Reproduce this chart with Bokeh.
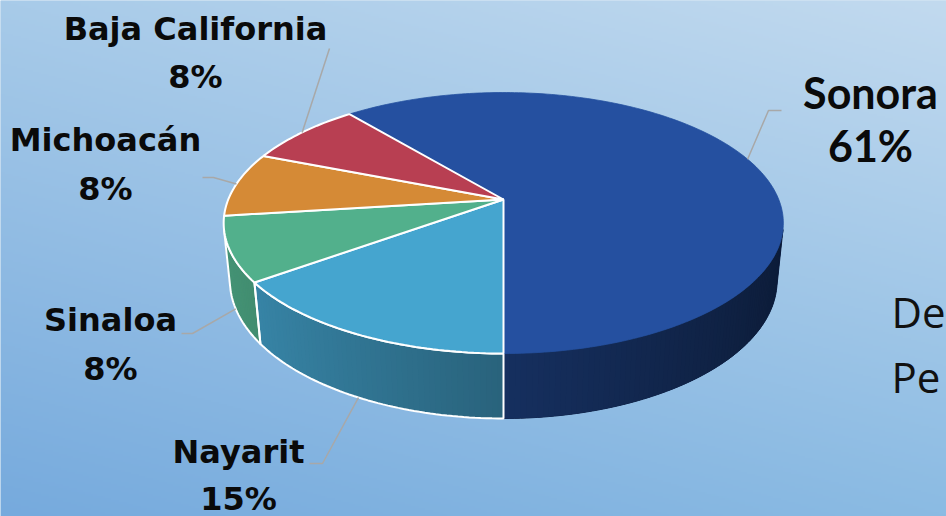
import numpy as np
from bokeh.plotting import figure
from bokeh.models import Range1d
from bokeh.core.properties import value
from bokeh.embed import file_html
from bokeh.resources import INLINE

# ---------------- data ----------------
states = ["Sonora", "Nayarit", "Sinaloa", "Michoacán", "Baja California"]
shares = [61, 15, 8, 8, 8]
pct_labels = [f"{v}%" for v in shares]

# ---------------- style / layout ----------------
top_colors = ["#2550a0", "#45a5cf", "#52b08c", "#d58a36", "#b83f52"]
edge_colors = [None, "white", "white", "white", "white"]
W, H = 946, 516
CX, CY = 503.0, 199.0            # screen position of pie centre
F = 1357.0                        # focal length (px)
ALPHA = np.radians(27.3)          # camera tilt
L = 4.93                          # camera distance (pie radius = 1)
T = 0.2376                        # pie thickness
START = 129.6                     # angle where the first slice starts (clockwise)

# label layout (screen coords): x centre, name baseline, pct baseline
label_x = [870, 238, 110, 105, 195]
label_y_name = [92, 451, 319, 139, 28]
label_y_pct = [145, 498, 368, 188, 76]
label_size = ["43px", "32px", "32px", "32px", "32px"]
label_font = ["Lato", "DejaVu Sans", "DejaVu Sans", "DejaVu Sans", "DejaVu Sans"]
leader_elbow = [(768, 110), (322, 463), (192, 333), (213, 177), (329, 48)]
leader_end = [(781, 110), (309, 463), (181, 333), (202, 177), (329, 48)]
side_text = ["De", "Pe"]
side_x = [891, 891]
side_y = [311, 376]


def proj(phi_deg, y3, r=1.0):
    ph = np.radians(phi_deg)
    X = r * np.cos(ph)
    Z = r * np.sin(ph)
    zc = L - y3 * np.sin(ALPHA) + Z * np.cos(ALPHA)
    yc = y3 * np.cos(ALPHA) + Z * np.sin(ALPHA)
    sx = CX + F * X / zc
    sy = CY - F * yc / zc
    return sx, H - sy


def shade(hexcol, phi_deg):
    s = 0.6 - 0.25 * np.cos(np.radians(phi_deg))
    r, g, b = (int(hexcol[i:i + 2], 16) for i in (1, 3, 5))
    return "#%02x%02x%02x" % (int(r * s), int(g * s), int(b * s))


p = figure(width=W, height=H, x_range=Range1d(0, W), y_range=Range1d(0, H),
           output_backend="svg", toolbar_location=None, min_border=0,
           x_axis_type=None, y_axis_type=None)
p.grid.visible = False
p.outline_line_color = None
p.background_fill_color = "#a6c9e8"
p.border_fill_color = "#a6c9e8"

# ---------- background gradient ----------
gh, gw = 258, 473
ty = np.linspace(0, 1, gh)[:, None]
tx = np.linspace(0, 1, gw)[None, :]
BL = np.array([118, 170, 221]); BR = np.array([139, 187, 227])
TL = np.array([168, 203, 233]); TR = np.array([194, 218, 239])
rgb = (BL * ((1 - tx) * (1 - ty))[..., None] + BR * (tx * (1 - ty))[..., None]
       + TL * ((1 - tx) * ty)[..., None] + TR * (tx * ty)[..., None])
img = np.empty((gh, gw), dtype=np.uint32)
view = img.view(dtype=np.uint8).reshape((gh, gw, 4))
view[..., :3] = rgb.astype(np.uint8)
view[..., 3] = 255
p.image_rgba(image=[img], x=0, y=0, dw=W, dh=H)

# ---------- slice angles ----------
total = float(sum(shares))
spans = []
a0 = START
for v in shares:
    a1 = a0 - 360.0 * v / total
    spans.append((a1, a0))
    a0 = a1

# visible part of the cylinder wall
Dc = L * np.cos(ALPHA)
tv = np.degrees(np.arcsin(1.0 / Dc))

base_xs, base_ys, base_cols = [], [], []
strip_xs, strip_ys, strip_cols = [], [], []
out_xs, out_ys = [], []
for i, (a1, a0) in enumerate(spans):
    for shift in (-720, -360, 0, 360):
        lo = max(a1, 180 + tv + shift)
        hi = min(a0, 360 - tv + shift)
        if hi <= lo:
            continue
        n = max(2, int(np.ceil((hi - lo) / 1.0)))
        ph = np.linspace(lo, hi, n + 1)
        tx_, ty_ = proj(ph, 0.0)
        bx_, by_ = proj(ph[::-1], -T)
        base_xs.append(list(tx_) + list(bx_))
        base_ys.append(list(ty_) + list(by_))
        base_cols.append(shade(top_colors[i], (lo + hi) / 2))
        for k in range(n):
            pa, pb = ph[k], min(hi, ph[k + 1] + 0.7)
            xa, ya = proj(pa, 0.0); xb, yb = proj(pb, 0.0)
            xc, yc = proj(pb, -T); xd, yd = proj(pa, -T)
            strip_xs.append([xa, xb, xc, xd]); strip_ys.append([ya, yb, yc, yd])
            strip_cols.append(shade(top_colors[i], (ph[k] + ph[k + 1]) / 2))
        if edge_colors[i]:
            out_xs.append(list(tx_) + list(bx_))
            out_ys.append(list(ty_) + list(by_))

p.patches(base_xs, base_ys, fill_color=base_cols, line_color=base_cols, line_width=1)
p.patches(strip_xs, strip_ys, fill_color=strip_cols, line_color=None)
if out_xs:
    p.patches(out_xs, out_ys, fill_color=None, line_color="white", line_width=2)

# ---------- top faces ----------
for i, (a1, a0) in enumerate(spans):
    ph = np.linspace(a0, a1, max(3, int(abs(a0 - a1))))
    ax, ay = proj(0.0, 0.0, r=0.0)
    xs_, ys_ = proj(ph, 0.0)
    xs = [ax] + list(xs_)
    ys = [ay] + list(ys_)
    if edge_colors[i]:
        p.patch(xs, ys, fill_color=top_colors[i], line_color=edge_colors[i], line_width=2)
    else:
        p.patch(xs, ys, fill_color=top_colors[i], line_color=top_colors[i], line_width=0.8)

# ---------- leader lines ----------
lx, ly = [], []
for i, (a1, a0) in enumerate(spans):
    mid = (a0 + a1) / 2
    y3 = -T if np.sin(np.radians(mid)) < 0 else 0.0
    sx, sy = proj(mid, y3)
    lx.append([sx, leader_elbow[i][0], leader_end[i][0]])
    ly.append([sy, H - leader_elbow[i][1], H - leader_end[i][1]])
p.multi_line(lx, ly, line_color="#a8a8a8", line_width=1.5)

# ---------- labels ----------
for i in range(len(states)):
    for txt, yy in ((states[i], label_y_name[i]), (pct_labels[i], label_y_pct[i])):
        p.text(x=[label_x[i]], y=[H - yy], text=[txt],
               text_font=value(label_font[i]), text_font_style="bold",
               text_font_size=label_size[i], text_align="center",
               text_baseline="alphabetic", text_color="#0a0a0a")

# partially visible side text
p.text(x=side_x, y=[H - v for v in side_y], text=side_text,
       text_font=value("Open Sans"), text_font_size="42px",
       text_align="left", text_baseline="alphabetic", text_color="#111111")

open("out.html", "w").write(file_html(p, INLINE))
